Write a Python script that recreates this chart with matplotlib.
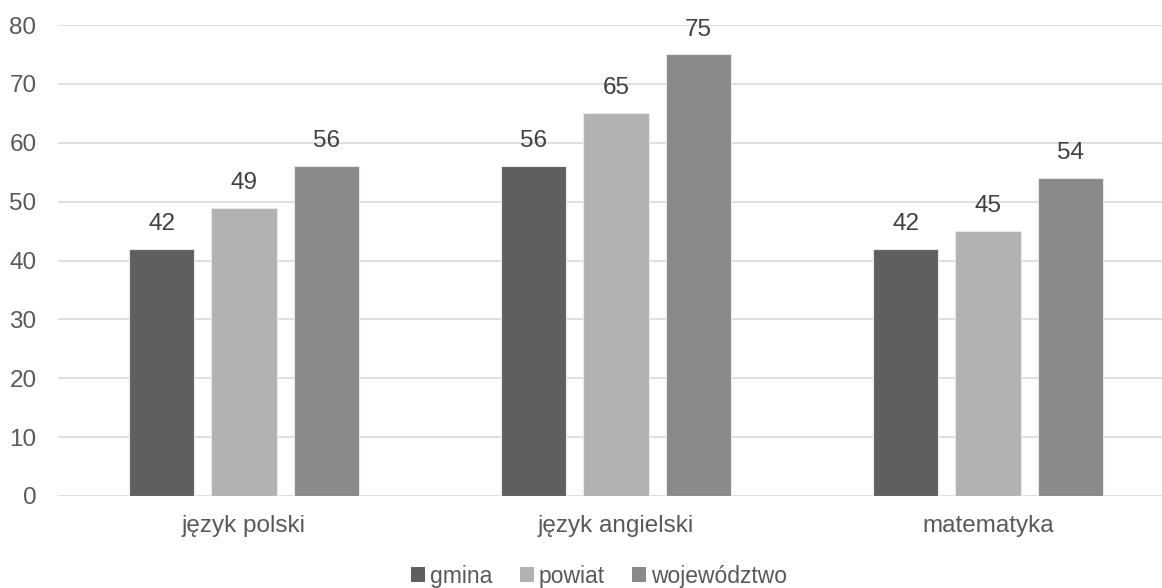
import matplotlib
matplotlib.use("Agg")
import matplotlib.pyplot as plt
import numpy as np
from matplotlib.patches import Patch

categories = ["język polski", "język angielski", "matematyka"]
series_names = ["gmina", "powiat", "województwo"]
gmina = [42, 56, 42]
powiat = [49, 65, 45]
wojewodztwo = [56, 75, 54]
yticks = [0, 10, 20, 30, 40, 50, 60, 70, 80]

colors = ["#5f5f5f", "#b2b2b2", "#8a8a8a"]

plt.rcParams['font.family'] = ['Liberation Sans', 'DejaVu Sans']

fig = plt.figure(figsize=(11.62, 5.88), dpi=100)
W, H = 1162, 588
ax = fig.add_axes([58 / W, (H - 496) / H, (1162 - 58) / W, (496 - 25) / H])

x = np.arange(len(categories))
width = 0.175
offset = 0.221
for i, (vals, name) in enumerate(zip([gmina, powiat, wojewodztwo], series_names)):
    pos = x + (i - 1) * offset
    ax.bar(pos, vals, width, color=colors[i], edgecolor="#e8e8e8", linewidth=0.8,
           zorder=3, label=name)
    for p, v in zip(pos, vals):
        ax.annotate(str(v), (p, v), xytext=(0, 10), textcoords="offset points",
                    ha="center", va="bottom", fontsize=17.5, color="#404040")

ax.set_ylim(0, 80)
ax.set_xlim(-0.5, (1162 - 244) / 372)
ax.set_yticks(yticks)
ax.set_xticks(x)
ax.set_xticklabels(categories)
ax.grid(axis="y", color="#d9d9d9", linewidth=1.2, zorder=0)
for s in ["top", "right", "left", "bottom"]:
    ax.spines[s].set_visible(False)
ax.tick_params(axis="both", length=0, labelsize=17.5, labelcolor="#595959")
ax.tick_params(axis="y", pad=15.5)
ax.tick_params(axis="x", pad=14)

handles = [Patch(facecolor=c, edgecolor="none") for c in colors]
fig.legend(handles, series_names, loc="center", bbox_to_anchor=(599 / W, 1 - 576 / H),
           ncol=3, frameon=False, fontsize=16.5, labelcolor="#595959",
           handlelength=0.62, handleheight=0.62, handletextpad=0.2, columnspacing=1.2)

fig.savefig("out.png", dpi=100)
